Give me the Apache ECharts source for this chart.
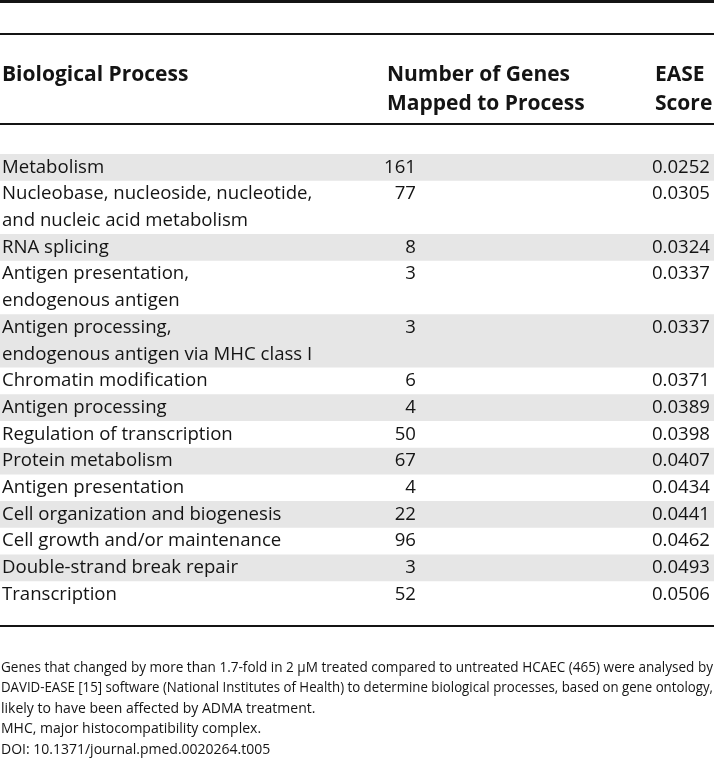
<!DOCTYPE html>
<html><head><meta charset="utf-8">
<script src="https://cdn.jsdelivr.net/npm/echarts@6/dist/echarts.min.js"></script>
<style>html,body{margin:0;padding:0;background:#fff}#c{width:714px;height:759px}</style>
</head><body><div id="c"></div>
<script>
// ---- data ----
const processes = [
  'Metabolism',
  'Nucleobase, nucleoside, nucleotide,\nand nucleic acid metabolism',
  'RNA splicing',
  'Antigen presentation,\nendogenous antigen',
  'Antigen processing,\nendogenous antigen via MHC class I',
  'Chromatin modification',
  'Antigen processing',
  'Regulation of transcription',
  'Protein metabolism',
  'Antigen presentation',
  'Cell organization and biogenesis',
  'Cell growth and/or maintenance',
  'Double-strand break repair',
  'Transcription'
];
const geneCounts = [161, 77, 8, 3, 3, 6, 4, 50, 67, 4, 22, 96, 3, 52];
const easeScores = [0.0252, 0.0305, 0.0324, 0.0337, 0.0337, 0.0371, 0.0389, 0.0398, 0.0407, 0.0434, 0.0441, 0.0462, 0.0493, 0.0506];
const headers = ['Biological Process', 'Number of Genes\nMapped to Process', 'EASE\nScore'];
const footnotes = [
  'Genes that changed by more than 1.7-fold in 2 \u03bcM treated compared to untreated HCAEC (465) were analysed by',
  'DAVID-EASE [15] software (National Institutes of Health) to determine biological processes, based on gene ontology,',
  'likely to have been affected by ADMA treatment.',
  'MHC, major histocompatibility complex.',
  'DOI: 10.1371/journal.pmed.0020264.t005'
];
const justifiedFootnotes = [true, true, false, false, false];

// ---- layout ----
const W = 714;
const FONT = '"Open Sans", "Noto Sans", sans-serif';
const bodyFont = '18.6px ' + FONT;
const headFont = 'bold 21px ' + FONT;
const noteSize = 14;
const noteFont = noteSize + 'px ' + FONT;
const colX = { proc: 2, count: 416, ease: 710 };
const ink = '#141414';
const stripe = '#e6e6e6';

const lineCounts = processes.map(p => p.split('\n').length);
const starts = [];
lineCounts.reduce((acc, n, i) => { starts[i] = acc; return acc + n; }, 0);
const totalLines = lineCounts.reduce((a, b) => a + b, 0);
const tableTop = 154, lineUnit = 26.7;

const rows = processes.map((p, i) => [i, starts[i], lineCounts[i], geneCounts[i], easeScores[i]]);

function renderRow(params, api) {
  const i = api.value(0), s = api.value(1), n = api.value(2);
  const p0 = api.coord([0, s]);
  const p1 = api.coord([W, s + n]);
  const lh = api.size([0, 1])[1];
  const children = [];
  if (i % 2 === 0) {
    children.push({ type: 'rect', shape: { x: p0[0], y: p0[1], width: p1[0] - p0[0], height: p1[1] - p0[1] }, style: { fill: stripe } });
  }
  const xProc = api.coord([colX.proc, s])[0];
  const xCount = api.coord([colX.count, s])[0];
  const xEase = api.coord([colX.ease, s])[0];
  children.push({ type: 'text', style: { x: xProc, y: p0[1], text: processes[i], font: bodyFont, fill: ink, align: 'left', verticalAlign: 'top', lineHeight: lh } });
  children.push({ type: 'text', style: { x: xCount, y: p0[1], text: String(api.value(3)), font: bodyFont, fill: ink, align: 'right', verticalAlign: 'top', lineHeight: lh } });
  children.push({ type: 'text', style: { x: xEase, y: p0[1], text: api.value(4).toFixed(4), font: bodyFont, fill: ink, align: 'right', verticalAlign: 'top', lineHeight: lh } });
  return { type: 'group', children };
}

// justified footnotes
const mctx = document.createElement('canvas').getContext('2d');
mctx.font = noteFont;
const noteEls = [];
const noteTop = 668, noteStep = 20.5, noteLeft = 1, noteRight = 713;
footnotes.forEach((line, k) => {
  const y = noteTop + k * noteStep;
  if (!justifiedFootnotes[k]) {
    noteEls.push({ type: 'text', x: noteLeft, y: y, style: { text: line, font: noteFont, fill: ink, align: 'left', verticalAlign: 'middle' } });
    return;
  }
  const target = noteRight - noteLeft;
  const natural = mctx.measureText(line).width;
  if (natural >= target) {
    noteEls.push({ type: 'text', x: noteLeft, y: y, scaleX: target / natural, style: { text: line, font: noteFont, fill: ink, align: 'left', verticalAlign: 'middle' } });
    return;
  }
  const words = line.split(' ');
  const widths = words.map(w => mctx.measureText(w).width);
  const sum = widths.reduce((a, b) => a + b, 0);
  const gap = (target - sum) / (words.length - 1);
  let x = noteLeft;
  words.forEach((w, j) => {
    noteEls.push({ type: 'text', x: x, y: y, style: { text: w, font: noteFont, fill: ink, align: 'left', verticalAlign: 'middle' } });
    x += widths[j] + gap;
  });
});

const rules = [
  { y: 0, h: 3 },
  { y: 33, h: 2 },
  { y: 123, h: 2 },
  { y: 625, h: 2 }
];

const chart = echarts.init(document.getElementById('c'), null, { renderer: 'canvas' });
chart.setOption({
  animation: false,
  backgroundColor: '#fff',
  grid: { left: 0, right: 0, top: tableTop, height: totalLines * lineUnit },
  xAxis: { type: 'value', min: 0, max: W, show: false },
  yAxis: { type: 'value', min: 0, max: totalLines, inverse: true, show: false },
  series: [{
    type: 'custom',
    renderItem: renderRow,
    data: rows,
    silent: true
  }],
  graphic: [
    ...rules.map(r => ({ type: 'rect', shape: { x: 0, y: r.y, width: W, height: r.h }, style: { fill: ink } })),
    { type: 'text', x: 2, y: 61, style: { text: headers[0], font: headFont, fill: ink, align: 'left', verticalAlign: 'top', lineHeight: 29 } },
    { type: 'text', x: 387, y: 61, style: { text: headers[1], font: headFont, fill: ink, align: 'left', verticalAlign: 'top', lineHeight: 29 } },
    { type: 'text', x: 655, y: 61, style: { text: headers[2], font: headFont, fill: ink, align: 'left', verticalAlign: 'top', lineHeight: 29 } },
    ...noteEls
  ]
});
</script>
</body></html>
